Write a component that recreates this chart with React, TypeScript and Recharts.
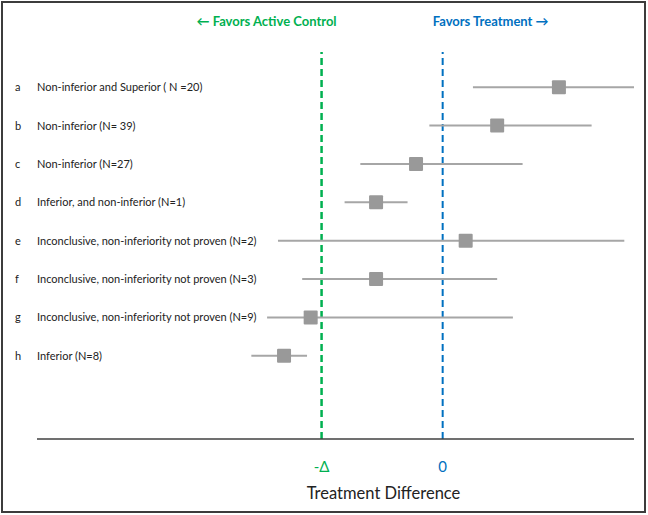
import React from "react";
import {
  ScatterChart,
  Scatter,
  XAxis,
  YAxis,
  ErrorBar,
  ReferenceLine,
} from "recharts";

// rows, top to bottom
const letters = ["a", "b", "c", "d", "e", "f", "g", "h"];
const labels = [
  "Non-inferior and Superior ( N =20)",
  "Non-inferior (N= 39)",
  "Non-inferior (N=27)",
  "Inferior, and non-inferior (N=1)",
  "Inconclusive, non-inferiority not proven (N=2)",
  "Inconclusive, non-inferiority not proven (N=3)",
  "Inconclusive, non-inferiority not proven (N=9)",
  "Inferior (N=8)",
];
// treatment difference, in units where the margin delta = 10
const estimates = [9.6, 4.5, -2.2, -5.5, 1.9, -5.5, -10.9, -13.1];
const lowers = [2.5, -1.1, -6.8, -8.1, -13.6, -11.6, -14.5, -15.8];
const uppers = [15.8, 12.3, 6.6, -2.9, 15.0, 4.5, 5.8, -11.2];

const delta = -10;
const xTicks = [delta, 0];
const xTickLabels: Record<number, string> = { [-10]: "-Δ", 0: "0" };

const GREEN = "#00B050";
const BLUE = "#0070C0";
const FONT = "Lato, 'Open Sans', sans-serif";

const rows = letters.map((id, i) => ({
  id,
  label: labels[i],
  est: estimates[i],
  err: [estimates[i] - lowers[i], uppers[i] - estimates[i]],
}));

const RowTick = (props: any) => {
  const { x, y, payload } = props;
  const row = rows.find((r) => r.id === payload.value);
  return (
    <g>
      <text x={x - 22} y={y} dy={4} fontSize={11} fill="#222" fontFamily={FONT}>
        {payload.value}
      </text>
      <text x={x} y={y} dy={4} fontSize={11} fill="#222" fontFamily={FONT}>
        {row ? row.label : ""}
      </text>
    </g>
  );
};

const DiffTick = (props: any) => {
  const { x, y, payload } = props;
  return (
    <text
      x={x}
      y={y}
      dy={25}
      textAnchor="middle"
      fontSize={15}
      fontFamily={FONT}
      fill={payload.value === 0 ? BLUE : GREEN}
    >
      {xTickLabels[payload.value]}
    </text>
  );
};

const Square = (props: any) => {
  const { cx, cy } = props;
  return <rect x={cx - 7} y={cy - 7} width={14} height={14} fill="#999999" rx={1} />;
};

export default function App() {
  return (
    <div style={{ position: "relative", width: 648, height: 515, background: "#fff" }}>
      <style>{"body{margin:0}"}</style>
      <div
        style={{
          position: "absolute",
          left: 1,
          top: 1,
          width: 645,
          height: 512,
          boxSizing: "border-box",
          border: "2px solid #3c3c3c",
        }}
      />
      <ScatterChart
        width={648}
        height={515}
        margin={{ top: 52, right: 14, bottom: 16, left: 0 }}
        style={{ position: "absolute", left: 0, top: 0 }}
      >
        <XAxis
          type="number"
          dataKey="est"
          domain={[-33.5, 15.8]}
          allowDataOverflow
          ticks={xTicks}
          tick={<DiffTick />}
          tickLine={false}
          axisLine={{ stroke: "#404040", strokeWidth: 1.5 }}
          height={60}
          label={{
            value: "Treatment Difference",
            position: "insideBottom",
            offset: 0,
            dx: 48,
            fontSize: 16.5,
            fill: "#222",
            fontFamily: FONT,
          }}
        />
        <YAxis
          type="category"
          dataKey="id"
          width={37}
          reversed
          axisLine={false}
          tickLine={false}
          tickSize={0}
          tickMargin={0}
          tick={<RowTick />}
          padding={{ top: 16, bottom: 64 }}
          interval={0}
        />
        <ReferenceLine
          x={delta}
          stroke={GREEN}
          strokeWidth={2.5}
          strokeDasharray="7 4"
          label={{
            value: "← Favors Active Control",
            position: "top",
            offset: 26,
            dx: -55,
            fill: GREEN,
            fontSize: 13,
            fontWeight: 700,
            fontFamily: FONT,
          }}
        />
        <ReferenceLine
          x={0}
          stroke={BLUE}
          strokeWidth={2}
          strokeDasharray="7 4"
          label={{
            value: "Favors Treatment →",
            position: "top",
            offset: 26,
            dx: 48,
            fill: BLUE,
            fontSize: 13,
            fontWeight: 700,
            fontFamily: FONT,
          }}
        />
        <Scatter data={rows} shape={<Square />} isAnimationActive={false}>
          <ErrorBar
            dataKey="err"
            direction="x"
            width={0}
            stroke="#a6a6a6"
            strokeWidth={2}
            isAnimationActive={false}
          />
        </Scatter>
      </ScatterChart>
    </div>
  );
}
